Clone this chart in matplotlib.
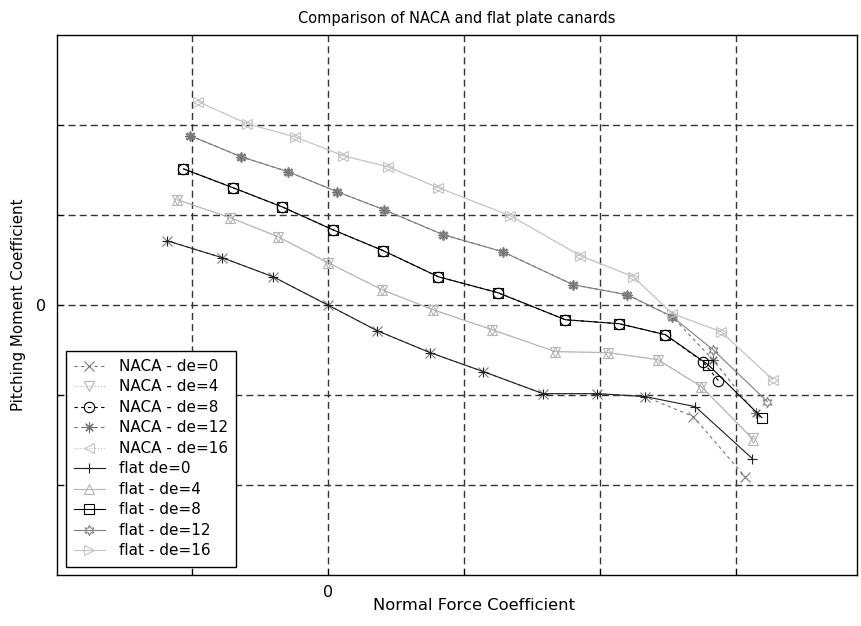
import matplotlib
matplotlib.use("Agg")
import matplotlib.pyplot as plt

plt.rcParams["font.family"] = ["DejaVu Sans"]

# normal force coefficient / pitching moment coefficient
x_de0 = [-0.237, -0.156, -0.081, 0.000, 0.072, 0.150, 0.228, 0.316, 0.396, 0.466, 0.540, 0.624]
y_flat_de0 = [0.0358, 0.0264, 0.0158, 0.0, -0.0142, -0.0264, -0.0369, -0.0492, -0.0492, -0.0508, -0.0564, -0.0853]
x_naca_de0 = [-0.237, -0.156, -0.081, 0.000, 0.072, 0.150, 0.228, 0.316, 0.396, 0.466, 0.537, 0.613]
y_naca_de0 = [0.0358, 0.0264, 0.0158, 0.0, -0.0142, -0.0264, -0.0369, -0.0492, -0.0492, -0.0508, -0.0619, -0.0953]

x_de4 = [-0.222, -0.144, -0.074, 0.000, 0.079, 0.154, 0.241, 0.334, 0.412, 0.485, 0.549, 0.625]
y_flat_de4 = [0.0586, 0.0486, 0.0381, 0.0236, 0.0086, -0.0025, -0.0136, -0.0258, -0.0264, -0.0303, -0.0453, -0.0747]
y_naca_de4 = [0.0586, 0.0486, 0.0381, 0.0236, 0.0086, -0.0025, -0.0136, -0.0258, -0.0264, -0.0303, -0.0453, -0.0740]

x_flat_de8 = [-0.213, -0.140, -0.068, 0.007, 0.081, 0.162, 0.250, 0.349, 0.428, 0.496, 0.559, 0.638]
y_flat_de8 = [0.0758, 0.0653, 0.0547, 0.0419, 0.0303, 0.0158, 0.0069, -0.0081, -0.0103, -0.0164, -0.0331, -0.0625]
x_naca_de8 = [-0.213, -0.140, -0.068, 0.007, 0.081, 0.162, 0.250, 0.349, 0.428, 0.496, 0.551, 0.574]
y_naca_de8 = [0.0758, 0.0653, 0.0547, 0.0419, 0.0303, 0.0158, 0.0069, -0.0081, -0.0103, -0.0164, -0.0314, -0.0419]

x_flat_de12 = [-0.203, -0.128, -0.059, 0.013, 0.082, 0.169, 0.257, 0.360, 0.440, 0.506, 0.566, 0.646]
y_flat_de12 = [0.0942, 0.0825, 0.0742, 0.0631, 0.0531, 0.0392, 0.0297, 0.0114, 0.0058, -0.0064, -0.0247, -0.0536]
x_naca_de12 = [-0.203, -0.128, -0.059, 0.013, 0.082, 0.169, 0.257, 0.360, 0.440, 0.506, 0.566, 0.629]
y_naca_de12 = [0.0942, 0.0825, 0.0742, 0.0631, 0.0531, 0.0392, 0.0297, 0.0114, 0.0058, -0.0064, -0.0303, -0.0600]

x_de16 = [-0.191, -0.119, -0.049, 0.022, 0.088, 0.162, 0.268, 0.371, 0.449, 0.506, 0.578, 0.654]
y_de16 = [0.1131, 0.1008, 0.0936, 0.0831, 0.0769, 0.0653, 0.0497, 0.0275, 0.0158, -0.0047, -0.0147, -0.0414]

x_ticks = [-0.2, 0.0, 0.2, 0.4, 0.6]
y_ticks = [-0.1, -0.05, 0.0, 0.05, 0.1]

asterisk = (8, 2, 0)   # matlab '*'
hexagram = (6, 1, 0)   # matlab 'h'

series = [
    ("NACA - de=0", x_naca_de0, y_naca_de0, "x", (0, (3, 3)), "#7a7a7a"),
    ("NACA - de=4", x_de4, y_naca_de4, "v", ":", "#b4b4b4"),
    ("NACA - de=8", x_naca_de8, y_naca_de8, "o", (0, (3, 3)), "#000000"),
    ("NACA - de=12", x_naca_de12, y_naca_de12, asterisk, (0, (3, 3)), "#707070"),
    ("NACA - de=16", x_de16, y_de16, "<", ":", "#c4c4c4"),
    ("flat de=0", x_de0, y_flat_de0, "+", "-", "#202020"),
    ("flat - de=4", x_de4, y_flat_de4, "^", "-", "#b4b4b4"),
    ("flat - de=8", x_flat_de8, y_flat_de8, "s", "-", "#000000"),
    ("flat - de=12", x_flat_de12, y_flat_de12, hexagram, "-", "#808080"),
    ("flat - de=16", x_de16, y_de16, ">", "-", "#c4c4c4"),
]

fig = plt.figure(figsize=(8.61, 6.26), dpi=100)
ax = fig.add_axes([0.0662, 0.0815, 0.9292, 0.862])

for label, xs, ys, mk, ls, col in series:
    ax.plot(xs, ys, linestyle=ls, marker=mk, color=col, lw=0.8, ms=7.5,
            mfc="none", mec=col, mew=0.8, label=label)

ax.set_xlim(-0.399, 0.778)
ax.set_ylim(-0.15, 0.15)
ax.set_xticks(x_ticks)
ax.set_xticklabels(["0" if t == 0 else "" for t in x_ticks])
ax.set_yticks(y_ticks)
ax.set_yticklabels(["0" if t == 0 else "" for t in y_ticks])
ax.tick_params(direction="in", length=4, labelsize=11.5, colors="k")
ax.tick_params(axis="x", pad=7)
ax.tick_params(axis="y", pad=8)
ax.grid(True, color="#333333", linestyle=(0, (5, 3)), lw=1.0)
for s in ax.spines.values():
    s.set_linewidth(1.0)

ax.set_title("Comparison of NACA and flat plate canards", fontsize=10.5, pad=9)
ax.set_xlabel("Normal Force Coefficient", fontsize=11.8)
ax.xaxis.set_label_coords(0.521, -0.043)
ax.set_ylabel("Pitching Moment Coefficient", fontsize=10.8)
ax.yaxis.set_label_coords(-0.039, 0.5)

leg = ax.legend(loc="lower left", bbox_to_anchor=(0.011, 0.015), borderaxespad=0,
                fontsize=11, fancybox=False, framealpha=1, edgecolor="k",
                handlelength=2.0, handletextpad=0.9, labelspacing=0.36, borderpad=0.55)
leg.get_frame().set_linewidth(1.0)

fig.savefig("out.png", dpi=100)
